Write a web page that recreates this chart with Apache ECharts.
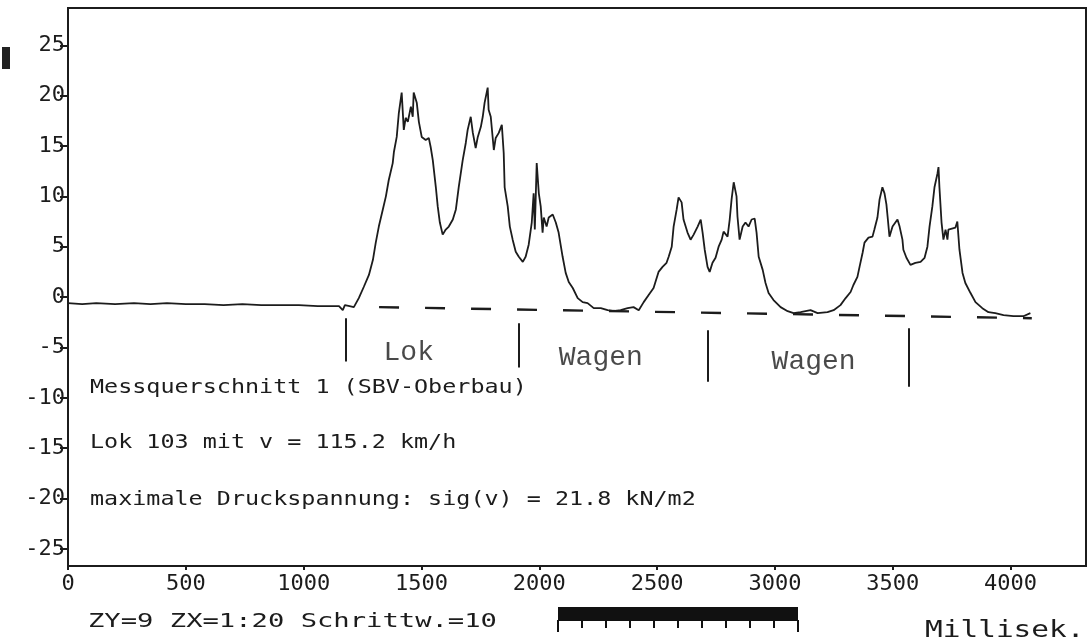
<!DOCTYPE html>
<html>
<head>
<meta charset="utf-8">
<script src="https://cdn.jsdelivr.net/npm/echarts@6/dist/echarts.min.js"></script>
<style>
html,body{margin:0;padding:0;background:#fff;}
#c{width:1092px;height:642px;}
</style>
</head>
<body>
<div id="c"></div>
<script>
const timeMs = [0,60,120,200,280,350,420,500,580,660,740,820,900,980,1060,1120,1150,1166,1175,1195,1213,
  1234,1255,1277,1294,1306,1319,1336,1349,1361,1378,1383,1395,1404,1416,1425,1433,1442,1455,1463,1467,1480,1489,1501,1518,1531,1539,1548,1561,1569,1578,1590,1603,1616,1633,1646,1658,1675,1688,1696,1709,1718,1730,1739,1752,1760,1768,1781,1785,1794,1807,1815,1828,1841,1849,1853,1866,1875,1887,1900,1913,1930,1942,1955,1968,1976,1981,1989,1998,2006,2014,2019,2031,2040,2057,2070,2082,2099,2112,2125,2142,2163,2184,2205,2231,2261,2290,2316,2345,2375,2400,2422,2443,2464,2485,
  2506,2523,2540,2549,2562,2570,2583,2591,2604,2612,2629,2642,2655,2672,2685,2693,2702,2714,2723,2735,2748,2761,2774,2782,2799,2808,2816,2825,2837,2841,2850,2863,2875,2888,2901,2914,2922,2931,2948,2960,2973,2994,3024,3054,3079,3109,3151,3181,3223,3249,3278,
  3300,3321,3333,3350,3359,3372,3380,3397,3414,3422,3435,3444,3456,3465,3473,3478,3486,3499,3507,3520,3529,3541,3545,3558,3575,3596,3618,3635,3647,3656,3668,3677,3690,3694,3698,3707,3715,3724,3732,3736,3766,3774,3783,3796,3808,3830,3851,3880,3906,3935,3970,4012,4054,4084];
const stress = [-0.6,-0.7,-0.6,-0.7,-0.6,-0.7,-0.6,-0.7,-0.7,-0.8,-0.7,-0.8,-0.8,-0.8,-0.9,-0.9,-0.9,-1.3,-0.8,-0.9,-1.0,
  -0.1,1.0,2.2,3.7,5.4,7.0,8.7,10.0,11.6,13.3,14.4,15.9,18.3,20.3,16.6,17.8,17.4,18.9,17.9,20.3,19.3,17.4,15.9,15.6,15.8,14.9,13.6,10.9,9.0,7.4,6.2,6.7,7.0,7.7,8.7,10.9,13.6,15.3,16.6,17.9,16.3,14.8,15.9,16.9,17.9,19.3,20.8,18.6,17.9,14.6,15.8,16.3,17.1,14.3,10.9,9.0,7.0,5.7,4.5,4.0,3.5,4.0,5.2,7.4,10.3,6.7,13.3,10.3,9.0,6.4,7.9,7.0,7.9,8.2,7.4,6.4,4.0,2.4,1.5,0.9,-0.1,-0.5,-0.6,-1.1,-1.1,-1.3,-1.4,-1.3,-1.1,-1.0,-1.3,-0.5,0.2,0.9,
  2.5,3.0,3.4,4.0,5.0,7.0,8.7,9.9,9.4,7.7,6.4,5.7,6.2,7.0,7.7,6.4,4.7,3.0,2.5,3.4,3.9,5.0,5.7,6.5,6.0,7.7,9.7,11.4,10.0,8.0,5.7,7.0,7.4,7.0,7.7,7.8,6.4,4.0,2.7,1.4,0.4,-0.3,-1.0,-1.4,-1.6,-1.5,-1.3,-1.6,-1.5,-1.3,-0.8,
  -0.1,0.5,1.2,2.0,3.0,4.4,5.4,5.9,6.0,6.7,7.9,9.7,10.9,10.3,9.2,8.0,6.0,7.0,6.9,7.7,7.0,5.7,4.7,3.9,3.2,3.4,3.5,3.9,5.0,7.0,9.0,10.9,12.3,12.9,10.9,7.4,5.7,6.7,5.7,6.7,6.9,7.5,4.7,2.4,1.4,0.4,-0.5,-1.1,-1.5,-1.6,-1.8,-1.9,-1.9,-1.6];

// Dashed reference line (start / end)
const refX = [1320, 4090];
const refY = [-1.0, -2.1];

// Vehicle boundary markers
const segX = [1179, 1913, 2714, 3567];
const segTop = [-2.1, -2.6, -3.3, -3.1];
const segBottom = [-6.4, -7.0, -8.4, -8.9];
const segLabels = ['Lok', 'Wagen', 'Wagen'];
const segLabelX = [1446, 2261, 3164];
const segLabelY = [-5.5, -6.0, -6.4];

// Tick labels
const xTicks = [0, 500, 1000, 1500, 2000, 2500, 3000, 3500, 4000];
const yTicks = [-25, -20, -15, -10, -5, 0, 5, 10, 15, 20, 25];

// Text lines
const infoLines = ['Messquerschnitt 1 (SBV-Oberbau)', 'Lok 103 mit v = 115.2 km/h', 'maximale Druckspannung: sig(v) = 21.8 kN/m2'];
const footerText = 'ZY=9 ZX=1:20 Schrittw.=10';
const unitText = 'Millisek.';

const INK = '#1c1c1c';
const MONO = '"DejaVu Sans Mono", monospace';

const traceData = timeMs.map((t, i) => [t, stress[i]]);
const refData = refX.map((x, i) => [x, refY[i]]);
const segLabelData = segLabels.map((s, i) => [segLabelX[i], segLabelY[i], s]);

const chart = echarts.init(document.getElementById('c'), null, {renderer: 'canvas'});

const graphics = [];
const infoY = [388, 443, 500];
infoLines.forEach((t, i) => {
  graphics.push({type: 'text', x: 90, y: infoY[i], scaleX: 1.17,
    style: {text: t, font: '20px ' + MONO, fill: INK, textVerticalAlign: 'middle'}});
});
graphics.push({type: 'text', x: 88, y: 622, scaleX: 1.43,
  style: {text: footerText, font: '19px ' + MONO, fill: INK, textVerticalAlign: 'middle'}});
graphics.push({type: 'text', x: 925, y: 631, scaleX: 1.28,
  style: {text: unitText, font: '23px ' + MONO, fill: INK, textVerticalAlign: 'middle'}});
// scale bar
graphics.push({type: 'rect', shape: {x: 558, y: 607, width: 240, height: 14}, style: {fill: '#111'}});
for (let k = 0; k <= 10; k++) {
  const len = (k === 0 || k === 10) ? 12 : 8;
  graphics.push({type: 'line', shape: {x1: 558 + k * 24, y1: 620, x2: 558 + k * 24, y2: 620 + len},
    style: {stroke: '#111', lineWidth: 2}});
}
// scan mark at left edge
graphics.push({type: 'rect', shape: {x: 2, y: 47, width: 8, height: 22}, style: {fill: '#222'}});

chart.setOption({
  animation: false,
  backgroundColor: '#ffffff',
  grid: {left: 68, right: 6, top: 8, bottom: 76, show: true, borderColor: INK, borderWidth: 2, backgroundColor: 'transparent'},
  xAxis: {
    type: 'value', min: 0, max: 4320,
    axisLine: {show: true, onZero: false, lineStyle: {color: INK, width: 2}},
    axisTick: {show: true, length: 4, customValues: xTicks, lineStyle: {color: INK, width: 2}},
    axisLabel: {customValues: xTicks, fontFamily: MONO, fontSize: 22, color: INK, margin: 7, formatter: v => String(v)},
    splitLine: {show: false}
  },
  yAxis: {
    type: 'value', min: -26.7, max: 28.7,
    axisLine: {show: true, onZero: false, lineStyle: {color: INK, width: 2}},
    axisTick: {show: true, length: 8, customValues: yTicks, lineStyle: {color: INK, width: 2}},
    axisLabel: {customValues: yTicks, fontFamily: MONO, fontSize: 22, color: INK, margin: 3, formatter: v => String(v)},
    splitLine: {show: false}
  },
  series: [
    {
      type: 'line', data: traceData, showSymbol: false, symbol: 'none',
      lineStyle: {color: INK, width: 1.8}, z: 3, silent: true,
      markLine: {
        symbol: 'none', silent: true, animation: false,
        label: {show: false},
        lineStyle: {type: 'solid', color: INK, width: 2},
        data: segX.map((x, i) => [{coord: [x, segTop[i]]}, {coord: [x, segBottom[i]]}])
      }
    },
    {
      type: 'line', data: refData, showSymbol: false, symbol: 'none',
      lineStyle: {color: INK, width: 2.4, type: [20, 26]}, z: 2, silent: true
    },
    {
      type: 'scatter', data: segLabelData, symbolSize: 0, silent: true,
      label: {show: true, position: 'inside', formatter: p => p.data[2],
        fontFamily: '"Liberation Mono", monospace', fontSize: 28, color: INK}
    }
  ],
  graphic: graphics
});
</script>
</body>
</html>
